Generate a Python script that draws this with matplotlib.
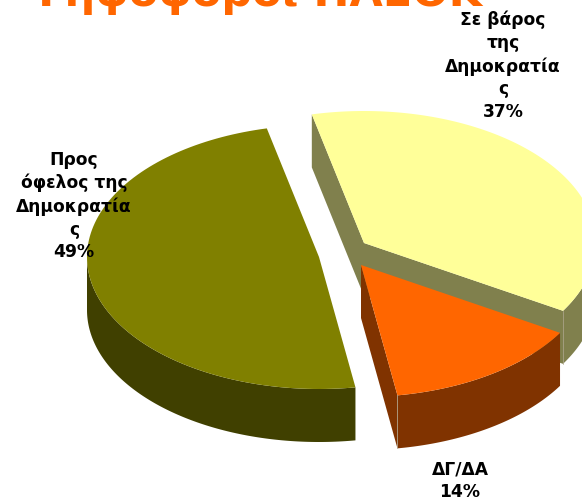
#!/usr/bin/env python3
import numpy as np
import matplotlib
matplotlib.use('Agg')
import matplotlib.pyplot as plt
from matplotlib.patches import Polygon

TITLE = 'Ψηφοφόροι ΠΑΣΟΚ'
labels = ['Σε βάρος\nτης\nΔημοκρατία\nς\n37%', 'ΔΓ/ΔΑ\n14%', 'Προς\nόφελος της\nΔημοκρατία\nς\n49%']
values = [37.2, 13.9, 48.9]

# style: top colour, side colour, apex position in pixels
top_colors = ['#FFFF99', '#FF6600', '#808000']
side_colors = ['#80804D', '#803300', '#404000']
apexes = [(364, 243), (361, 265), (319, 257)]
label_pos = [(503, 66), (460, 481), (74, 206)]

RX, RY, DEPTH = 232, 132, 53
START = -13  # degrees clockwise from the top


def rim(apex, a0, a1):
    t = np.radians(np.linspace(a0, a1, 120))
    return np.column_stack([apex[0] + RX * np.sin(t), apex[1] - RY * np.cos(t)])


def drop(pts):
    return pts + np.array([0, DEPTH])


fig = plt.figure(figsize=(5.82, 5.0), dpi=100)
ax = fig.add_axes([0, 0, 1, 1])
ax.set_xlim(0, 582)
ax.set_ylim(500, 0)
ax.axis('off')

edges = START + np.cumsum([0] + values) * 3.6
for i in range(len(values)):
    a0, a1 = edges[i], edges[i + 1]
    apex = np.array(apexes[i], dtype=float)
    top = rim(apex, a0, a1)
    side = side_colors[i]

    # straight walls that face the viewer
    if i == 0:
        for p in (top[0], top[-1]):
            seg = np.array([apex, p])
            ax.add_patch(Polygon(np.vstack([seg, drop(seg)[::-1]]), fc=side, ec='none'))
    if i == 1:
        seg = np.array([apex, top[-1]])
        ax.add_patch(Polygon(np.vstack([seg, drop(seg)[::-1]]), fc=side, ec='none'))

    # outer wall, only the part on the near side of the ellipse
    lo, hi = max(a0, 90), min(a1, 270)
    if hi > lo:
        arc = rim(apex, lo, hi)
        ax.add_patch(Polygon(np.vstack([arc, drop(arc)[::-1]]), fc=side, ec='none'))

    ax.add_patch(Polygon(np.vstack([apex, top]), fc=top_colors[i], ec='none'))

    # thin light seam at the corner of the wall
    if i < 2:
        c = top[-1]
        ax.plot([c[0], c[0]], [c[1], c[1] + DEPTH], color='#B0A890', lw=0.5)

for txt, (x, y) in zip(labels, label_pos):
    ax.text(x, y, txt, ha='center', va='center', fontsize=12.3, fontweight='bold',
            family='DejaVu Sans', color='black', linespacing=1.35)

ax.text(255, 6, TITLE, ha='center', va='baseline', fontsize=31, fontweight='bold',
        family='DejaVu Sans', color='#FF6600')

fig.savefig('out.png', dpi=100)
